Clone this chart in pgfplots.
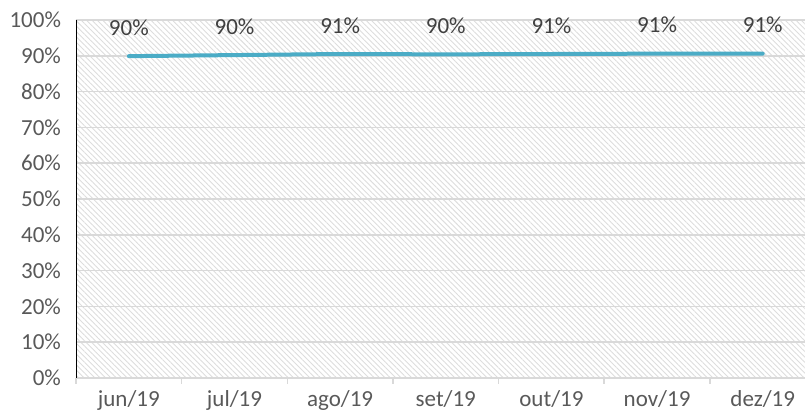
\documentclass[border=0pt]{standalone}
\usepackage{fontspec}
\setmainfont{Carlito}
\usepackage{pgfplots}
\pgfplotsset{compat=1.18}
\usetikzlibrary{patterns.meta}
\definecolor{serie}{HTML}{4BACC6}
\definecolor{gridc}{HTML}{D9D9D9}
\definecolor{hatch}{HTML}{DDDDDD}
\definecolor{txt}{HTML}{595959}
\definecolor{lbl}{HTML}{404040}
\begin{document}
\begin{tikzpicture}
% 1px = 0.5pt
\path[use as bounding box] (-38pt,-17pt) rectangle (364.5pt,189pt);
\begin{axis}[
  anchor=south west, at={(0,0)},
  scale only axis, width=364.5pt, height=179pt,
  xmin=-0.5, xmax=6.4, ymin=0, ymax=100,
  axis background/.style={pattern={Lines[angle=-45, distance=1.9pt, line width=0.45pt]}, pattern color=hatch},
  axis x line*=bottom, axis y line=none,
  hide y axis=false,
  x axis line style={gridc, line width=0.8pt},
  xtick={0,...,6},
  xticklabels={jun/19,jul/19,ago/19,set/19,out/19,nov/19,dez/19},
  minor xtick={-0.5,0.5,...,5.5},
  major tick length=0pt, minor tick length=3pt,
  tick align=outside,
  minor tick style={gridc, line width=0.8pt},
  ytick={0,10,...,100},
  yticklabel={\pgfmathprintnumber{\tick}\%},
  ymajorgrids, grid style={gridc, line width=0.8pt},
  ytick style={draw=none},
  tick label style={font=\fontsize{11.5}{13}\selectfont, text=txt},
  yticklabel style={xshift=-4pt},
  xticklabel style={yshift=-2.5pt},
  /pgf/number format/assume math mode=true,
  nodes near coords,
  point meta=explicit symbolic,
  every node near coord/.append style={font=\fontsize{11.5}{13}\selectfont, text=lbl, anchor=base, yshift=10.5pt},
  clip=false,
]
\addplot[serie, line width=2pt, line cap=round] table[meta=l] {
x y l
0 89.9 90\%
1 90.2 90\%
2 90.5 91\%
3 90.4 90\%
4 90.5 91\%
5 90.6 91\%
6 90.6 91\%
};
\end{axis}
\end{tikzpicture}
\end{document}
